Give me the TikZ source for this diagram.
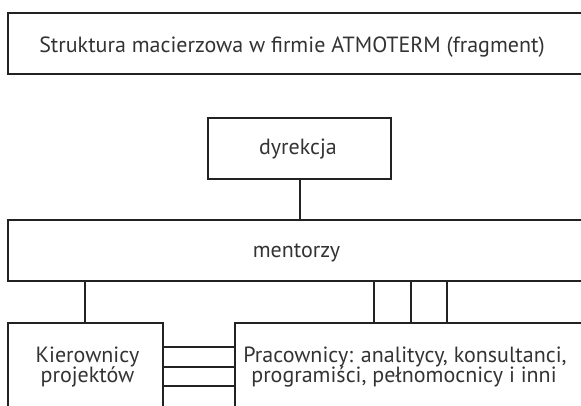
\documentclass[tikz,border=0pt]{standalone}
\usepackage{fontspec}
\setmainfont{PT Sans}
\definecolor{ink}{HTML}{222222}
\definecolor{txtc}{HTML}{333333}
\begin{document}
\begin{tikzpicture}[x=1pt,y=-1pt,
  box/.style={draw=ink, line width=2pt, rectangle, inner sep=0pt, anchor=north west},
  conn/.style={draw=ink, line width=2pt},
  lbl/.style={text=txtc, font=\fontsize{22}{22}\selectfont, inner sep=0pt, anchor=base}]
\useasboundingbox (0,0) rectangle (581,406);
\clip (0,0) rectangle (581,406);
% boxes
\node[box, minimum width=581.5pt, minimum height=61pt] (title) at (6.5,12) {};
\node[box, minimum width=183pt, minimum height=61pt] (dyr) at (207,117) {};
\node[box, minimum width=581pt, minimum height=61pt] (ment) at (7,219) {};
\node[box, minimum width=155pt, minimum height=110pt] (kier) at (7,321.5) {};
\node[box, minimum width=354pt, minimum height=110pt] (prac) at (234,321.5) {};
% texts
\node[lbl] (titletxt) at (292,52.5) {Struktura macierzowa w firmie ATMOTERM (fragment)};
\node[lbl] (dyrtxt) at (298,155) {dyrekcja};
\node[lbl] (menttxt) at (296.5,258) {mentorzy};
\node[lbl] (kiertxt1) at (87.5,362.5) {Kierownicy};
\node[lbl] (kiertxt2) at (87.5,382.5) {projektów};
\node[lbl] (practxt1) at (405,362.5) {Pracownicy: analitycy, konsultanci,};
\node[lbl] (practxt2) at (404,382.5) {programiści, pełnomocnicy i inni};
% helper coordinates
\coordinate (v0) at (85,0);
\coordinate (v1) at (374,0);
\coordinate (v2) at (411,0);
\coordinate (v3) at (447,0);
\coordinate (h1) at (0,346.5);
\coordinate (h2) at (0,366.5);
\coordinate (h3) at (0,386);
% connectors
\draw[conn] (dyr.south) -- (ment.north -| dyr.south);
\draw[conn] (ment.south -| v0) -- (kier.north -| v0);
\foreach \v in {v1,v2,v3} \draw[conn] (ment.south -| \v) -- (prac.north -| \v);
\foreach \h in {h1,h2,h3} \draw[conn] (kier.east |- \h) -- (prac.west |- \h);
\end{tikzpicture}
\end{document}
